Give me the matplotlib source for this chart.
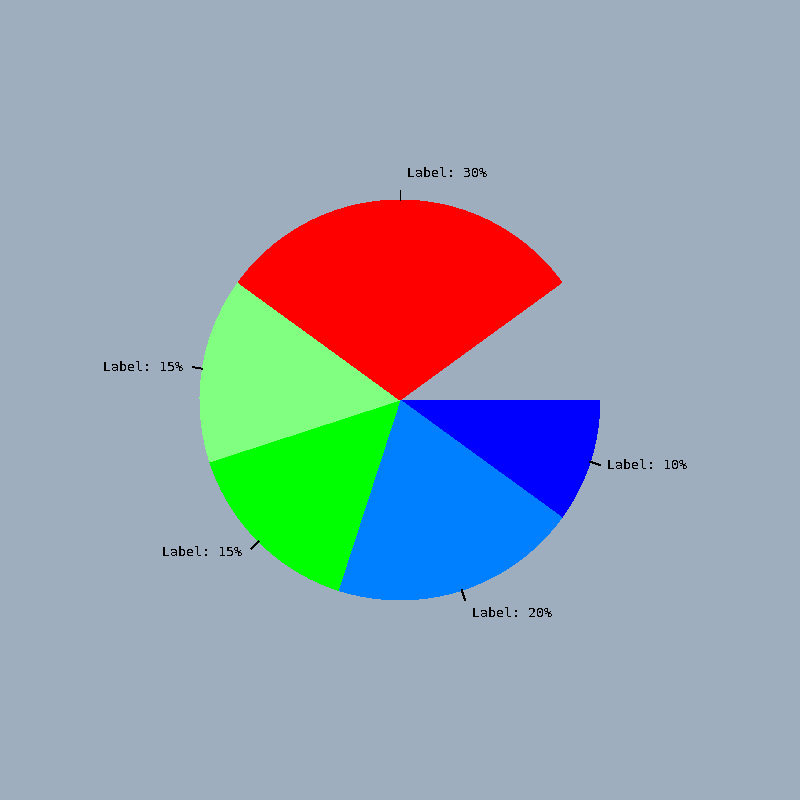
import matplotlib
matplotlib.use("Agg")
import matplotlib.pyplot as plt
import numpy as np

plt.rcParams['text.antialiased'] = False

fractions = [0.10, 0.20, 0.15, 0.15, 0.30]
labels = ["Label: 10%", "Label: 20%", "Label: 15%", "Label: 15%", "Label: 30%"]
colors = ["#0000ff", "#0080ff", "#00ff00", "#80ff80", "#ff0000"]
bg = "#9faebf"

fig = plt.figure(figsize=(8, 8), dpi=100, facecolor=bg)
ax = fig.add_axes([0, 0, 1, 1])
ax.set_facecolor(bg)

wedges, _ = ax.pie(fractions, colors=colors, normalize=False, startangle=0,
                   counterclock=False, radius=1.0,
                   wedgeprops=dict(linewidth=0, antialiased=False))

for w, lab in zip(wedges, labels):
    a = np.deg2rad((w.theta1 + w.theta2) / 2)
    c, s = np.cos(a), np.sin(a)
    ax.plot([c, 1.05 * c], [s, 1.05 * s], color="black", lw=0.55, antialiased=False)
    side = 1 if c >= -1e-6 else -1
    x = 1.05 * c + (0.035 if side > 0 else -0.05)
    y = 1.05 * s + 0.085 * s * abs(s) ** 3
    ax.text(x, y, lab, ha="left" if side > 0 else "right", va="center",
            family="DejaVu Sans Mono", fontsize=9.5, color="black")

ax.set_xlim(-2, 2)
ax.set_ylim(-2, 2)
ax.set_aspect("equal")
ax.axis("off")

fig.savefig("out.png", dpi=100, facecolor=bg)
